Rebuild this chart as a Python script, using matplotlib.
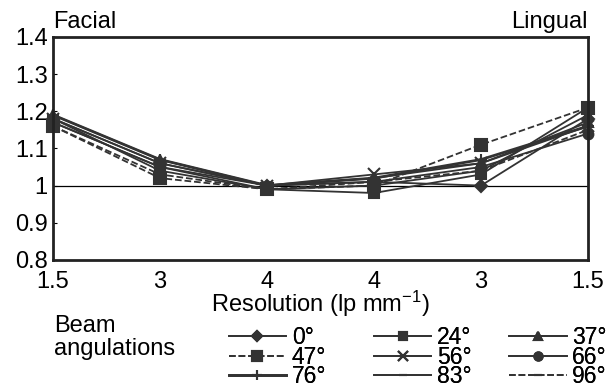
import numpy as np
import matplotlib.pyplot as plt

plt.rcParams['font.family'] = ['Liberation Sans', 'DejaVu Sans']

positions = [0, 1, 2, 3, 4, 5]
tick_labels = ["1.5", "3", "4", "4", "3", "1.5"]

angles = ["0°", "24°", "37°", "47°", "56°", "66°", "76°", "83°", "96°"]
v0 = [1.18, 1.06, 1.00, 1.01, 1.00, 1.18]
v24 = [1.17, 1.05, 0.99, 0.98, 1.03, 1.21]
v37 = [1.19, 1.07, 1.00, 1.02, 1.06, 1.17]
v47 = [1.16, 1.02, 0.99, 1.00, 1.11, 1.21]
v56 = [1.18, 1.06, 1.00, 1.03, 1.06, 1.16]
v66 = [1.17, 1.05, 1.00, 1.01, 1.05, 1.14]
v76 = [1.19, 1.07, 1.00, 1.02, 1.07, 1.16]
v83 = [1.18, 1.04, 0.99, 1.00, 1.04, 1.19]
v96 = [1.16, 1.03, 0.99, 1.01, 1.04, 1.15]

series = [v0, v24, v37, v47, v56, v66, v76, v83, v96]
markers = ["D", "s", "^", "s", "x", "o", "+", "_", "_"]
msizes = [6, 7, 7, 9, 8, 7, 9, 6, 6]
lstyles = ["-", "-", "-", "--", "-", "-", "-", "-", "--"]
lwidths = [1.3, 1.3, 1.3, 1.3, 1.3, 1.3, 2.0, 1.3, 1.3]
col = "#333333"
fs = 17

fig = plt.figure(figsize=(6.1, 3.85), dpi=100)
ax = fig.add_axes([0.087, 0.325, 0.877, 0.579])

handles = []
for vals, m, ms, ls, lw in zip(series, markers, msizes, lstyles, lwidths):
    h, = ax.plot(positions, vals, color=col, marker=m, markersize=ms,
                 linestyle=ls, linewidth=lw, markeredgewidth=1.5,
                 clip_on=False)
    handles.append(h)

ax.axhline(1.0, color="black", linewidth=0.9, zorder=0)

ax.set_xlim(0, 5)
ax.set_ylim(0.8, 1.4)
ax.set_xticks(positions)
ax.set_xticklabels(tick_labels)
ax.set_yticks([0.8, 0.9, 1.0, 1.1, 1.2, 1.3, 1.4])
ax.set_yticklabels(["0.8", "0.9", "1", "1.1", "1.2", "1.3", "1.4"])
ax.tick_params(axis="x", length=0, labelsize=fs, pad=8)
ax.tick_params(axis="y", direction="in", length=3, labelsize=fs, pad=4)
for s in ax.spines.values():
    s.set_linewidth(2.0)
    s.set_color("#222222")

ax.set_xlabel("Resolution (lp mm$\\mathregular{^{-1}}$)", fontsize=fs,
              labelpad=-3)
ax.text(0.0, 1.02, "Facial", transform=ax.transAxes, fontsize=fs,
        ha="left", va="bottom")
ax.text(1.0, 1.02, "Lingual", transform=ax.transAxes, fontsize=fs,
        ha="right", va="bottom")

fig.text(0.088, 0.065, "Beam\nangulations", fontsize=fs, ha="left",
         va="bottom", linespacing=1.05)

# three legend columns, rows: 0/24/37, 47/56/66, 76/83/96
col_x = [0.375, 0.613, 0.835]
for c in range(3):
    idx = [c, c + 3, c + 6]
    leg = fig.legend([handles[i] for i in idx], [angles[i] for i in idx],
                     loc="upper left", bbox_to_anchor=(col_x[c], 0.152),
                     frameon=False, fontsize=16.5, handlelength=2.5,
                     handletextpad=0.25, labelspacing=-0.17,
                     markerscale=0.85, borderpad=0, borderaxespad=0)
    fig.add_artist(leg)

fig.savefig("out.png", dpi=100)
